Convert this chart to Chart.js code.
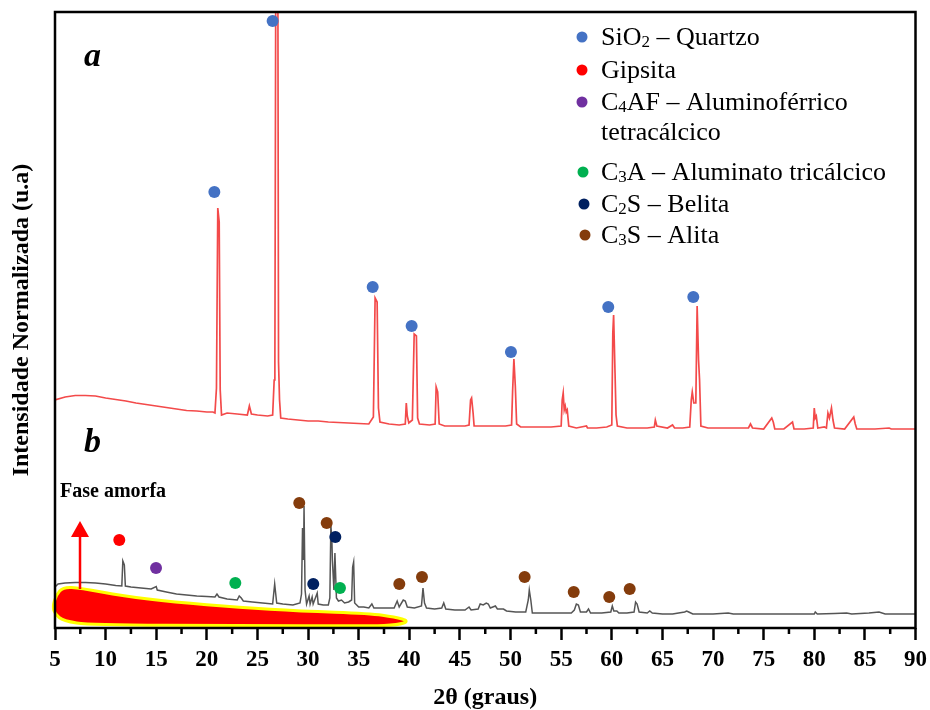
<!DOCTYPE html>
<html>
<head>
<meta charset="utf-8">
<script src="https://cdn.jsdelivr.net/npm/chart.js@4.4.1/dist/chart.umd.min.js"></script>
<style>
html, body { margin: 0; padding: 0; background: #fff; }
</style>
</head>
<body>
<canvas id="chart" width="930" height="710"></canvas>
<script>
// pattern a (red) - 2theta (graus) and intensity (u.a)
var thetaA = [5, 6, 7, 8, 9, 10, 11, 12,
    13, 14, 15, 16, 17, 18, 19, 20,
    20.6, 20.8, 20.95, 21.0, 21.08, 21.22, 21.32, 21.45,
    22, 23, 24, 24.2, 24.4, 25, 26, 26.5,
    26.65, 26.72, 26.8, 27.02, 27.08, 27.18, 27.3, 28,
    29, 30, 31, 32, 33, 34, 35, 36,
    36.45, 36.62, 36.82, 36.95, 37.1, 38, 39, 39.6,
    39.7, 39.8, 39.95, 40.3, 40.48, 40.7, 40.82, 41,
    42, 42.55, 42.65, 42.8, 42.95, 43.5, 44.5, 45.5,
    45.9, 46.05, 46.15, 46.3, 46.4, 47.5, 48.5, 49.5,
    50.1, 50.2, 50.33, 50.47, 50.6, 51, 52, 53,
    54, 55, 55.1, 55.2, 55.3, 55.4, 55.5, 55.6,
    55.75, 56.5, 57.5, 57.6, 58.5, 59.5, 60, 60.1,
    60.18, 60.32, 60.42, 60.55, 61.5, 62.5, 63.5, 64.2,
    64.3, 64.45, 65.5, 66, 66.2, 67, 67.7, 67.85,
    67.95, 68.1, 68.3, 68.43, 68.57, 68.67, 68.8, 69.5,
    70.5, 71.5, 72.5, 73.5, 73.7, 73.9, 75, 75.8,
    75.95, 76.1, 77, 77.85, 78, 79, 79.9, 80,
    80.1, 80.2, 80.35, 81, 81.2, 81.35, 81.5, 81.7,
    81.85, 82, 83, 83.9, 84.05, 84.2, 85, 86,
    87.4, 87.6, 89, 90];
var intA = [228, 231, 232.5, 232.5, 232, 230, 228.5, 227,
    225, 223.5, 222, 220.5, 219, 217.5, 217, 216,
    216, 215, 240, 240, 420, 406, 238, 213,
    215, 214, 213, 222, 214, 213, 212, 213,
    248, 266, 616, 616, 266, 228, 210, 209,
    208, 207, 207, 206, 205.5, 205, 204.5, 204,
    211, 330, 326, 220, 206, 204, 203, 204,
    225, 212, 205, 208, 294, 292, 210, 204,
    203, 204, 241, 236, 204, 202, 202, 202,
    203, 228, 230, 215, 202, 202, 202, 202,
    203, 236, 269, 242, 204, 201, 201, 201,
    201, 202, 228, 235, 218, 222, 216, 218,
    202, 200, 202, 200, 200, 201, 203, 295,
    313, 255, 213, 202, 200, 200, 200, 201,
    208, 202, 200, 203, 200, 200, 201, 228,
    236, 225, 225, 322, 268, 248, 202, 200,
    200, 200, 200, 200, 204, 200, 199, 210,
    206, 199, 199, 206, 199, 199, 200, 220,
    210, 212, 200, 201, 200, 215, 210, 220,
    208, 200, 199, 211, 204, 199, 199, 199,
    200, 199, 199, 199];

// pattern b (gray)
var thetaB = [5, 5.3, 6, 7, 8, 9, 10, 11,
    11.6, 11.7, 11.85, 11.95, 12.5, 13.5, 14.5, 15,
    15.1, 16, 17, 18, 19, 20, 20.8, 21,
    21.2, 22, 23, 23.2, 23.4, 23.6, 24.5, 25.5,
    26.5, 26.7, 26.9, 27.5, 28.5, 29.2, 29.35, 29.45,
    29.55, 29.6, 29.7, 29.85, 30.1, 30.2, 30.4, 30.5,
    30.9, 31, 31.5, 32, 32.15, 32.25, 32.35, 32.4,
    32.55, 32.65, 32.8, 33, 33.3, 33.6, 34, 34.3,
    34.4, 34.5, 34.6, 35, 35.5, 36, 36.3, 36.5,
    37.5, 38.5, 38.8, 39, 39.4, 39.6, 39.8, 40.5,
    41.2, 41.35, 41.5, 41.7, 42.5, 43.2, 43.4, 43.6,
    44.5, 45.5, 45.9, 46.1, 46.8, 47, 47.3, 47.6,
    47.8, 48, 48.5, 48.7, 49.3, 49.6, 50.5, 51.5,
    51.75, 51.85, 52, 52.15, 53, 54, 55, 56,
    56.3, 56.5, 56.7, 56.9, 57.5, 57.7, 57.9, 59,
    59.9, 60.05, 60.2, 60.5, 60.7, 61.5, 62.2, 62.35,
    62.5, 62.7, 63.5, 63.75, 64, 65, 66, 67.2,
    67.4, 67.6, 68, 70, 71.5, 72, 75, 80,
    80.1, 80.3, 82, 83.2, 83.7, 85.4, 86.4, 87,
    90];
var intB = [41, 44, 45, 45.5, 45.5, 45, 44, 42.5,
    42, 67, 63, 42, 41, 40, 39, 41.5,
    38, 36, 34, 33, 32, 31.5, 31, 34,
    31, 29, 28, 32, 30, 27, 26, 25,
    24, 44, 25, 24, 23, 25, 34, 100,
    68, 122, 38, 24, 32, 24, 31, 24,
    35, 24, 23, 23, 30, 103, 88, 68,
    38, 75, 30, 27, 28, 25, 26, 28,
    61, 66, 25, 21, 21, 20, 24, 20,
    20, 20, 27, 21, 28, 27, 21, 20,
    22, 40, 25, 20, 19, 20, 25, 19,
    18, 18, 21, 18, 19, 24, 23, 25,
    24, 20, 22, 19, 19, 17, 16, 16,
    28, 38, 28, 15, 15, 15, 15, 15,
    18, 24, 23, 16, 16, 19, 15, 15,
    16, 22, 17, 17, 15, 15, 16, 26,
    24, 16, 15, 17, 15, 14, 14, 16,
    17, 16, 14, 14, 15, 14, 14, 14,
    16, 14, 14.5, 15, 14, 15, 16, 14,
    14];

// phase markers (2theta, intensity)
var quartzTheta = [20.74, 26.5, 36.38, 40.23, 50.04, 59.65, 68.05];
var quartzInt = [436, 607, 341, 302, 276, 321, 331];
var gipsitaTheta = [11.35];
var gipsitaInt = [88];
var c4afTheta = [14.98];
var c4afInt = [60];
var c3aTheta = [22.81, 33.15];
var c3aInt = [45, 40];
var c2sTheta = [30.51, 32.69];
var c2sInt = [44, 91];
var c3sTheta = [29.13, 31.84, 39.01, 41.25, 51.39, 56.24, 59.75, 61.77];
var c3sInt = [125, 105, 44, 51, 51, 36, 31, 39];

var legendLabels = [['SiO_2 \u2013 Quartzo'], ['Gipsita'], ['C_4AF \u2013 Aluminof\u00e9rrico', 'tetrac\u00e1lcico'],
    ['C_3A \u2013 Aluminato tric\u00e1lcico'], ['C_2S \u2013 Belita'], ['C_3S \u2013 Alita']];
var phaseColors = ['#4472c4', '#ff0000', '#7030a0', '#00b050', '#002060', '#843c0c'];

// amorphous halo outline
var blobTheta = [4.77, 5.1, 5.82, 7.47, 11.75, 16.69, 23.27, 29.2, 36.11, 38.58, 40.0, 38.88, 36.11, 23.27, 8.46, 5.82, 5.0];
var blobInt = [21, 33, 41, 40, 32, 26, 20.5, 17, 14.5, 11, 7, 3, 2, 2.5, 3, 7, 14];
var arrowTheta = 7.47, arrowFrom = 39, arrowTo = 107;

var serif = '"Liberation Serif", "Times New Roman", serif';

function pts(xs, ys) {
    var out = [];
    for (var i = 0; i < xs.length; i++) out.push({x: xs[i], y: ys[i]});
    return out;
}

function dots(xs, ys, color) {
    return {data: pts(xs, ys), showLine: false, pointRadius: 6, pointHoverRadius: 6,
        pointBackgroundColor: color, pointBorderWidth: 0, order: 0};
}

function richText(ctx, str, x, y, size) {
    for (var i = 0; i < str.length; i++) {
        var ch = str[i];
        if (ch === '_') {
            i++;
            ctx.font = Math.round(size * 0.66) + 'px ' + serif;
            ctx.fillText(str[i], x, y + 2);
            x += ctx.measureText(str[i]).width;
        } else {
            ctx.font = size + 'px ' + serif;
            ctx.fillText(ch, x, y);
            x += ctx.measureText(ch).width;
        }
    }
}

var decorations = {
    id: 'decorations',
    afterDatasetsDraw: function(chart) {
        var ctx = chart.ctx, xs = chart.scales.x, ys = chart.scales.y;
        ctx.save();
        // amorphous region
        var p = [];
        for (var i = 0; i < blobTheta.length; i++) p.push({x: xs.getPixelForValue(blobTheta[i]), y: ys.getPixelForValue(blobInt[i])});
        var n = p.length;
        ctx.beginPath();
        ctx.moveTo((p[n - 1].x + p[0].x) / 2, (p[n - 1].y + p[0].y) / 2);
        for (var j = 0; j < n; j++) {
            var q = p[(j + 1) % n];
            ctx.quadraticCurveTo(p[j].x, p[j].y, (p[j].x + q.x) / 2, (p[j].y + q.y) / 2);
        }
        ctx.closePath();
        ctx.fillStyle = '#ff0000';
        ctx.fill();
        ctx.lineWidth = 3;
        ctx.strokeStyle = '#ffff00';
        ctx.stroke();

        // arrow
        var ax = xs.getPixelForValue(arrowTheta);
        var y0 = ys.getPixelForValue(arrowFrom), y1 = ys.getPixelForValue(arrowTo);
        ctx.strokeStyle = '#ff0000';
        ctx.lineWidth = 2.5;
        ctx.beginPath();
        ctx.moveTo(ax, y0);
        ctx.lineTo(ax, y1 + 15);
        ctx.stroke();
        ctx.fillStyle = '#ff0000';
        ctx.beginPath();
        ctx.moveTo(ax - 9, y1 + 16);
        ctx.lineTo(ax + 9, y1 + 16);
        ctx.lineTo(ax, y1);
        ctx.closePath();
        ctx.fill();

        // labels
        ctx.fillStyle = '#000';
        ctx.textBaseline = 'alphabetic';
        ctx.font = 'italic bold 34px ' + serif;
        ctx.fillText('a', 84, 66);
        ctx.fillText('b', 84, 452);
        ctx.font = 'bold 20px ' + serif;
        ctx.fillText('Fase amorfa', 60, 497);

        // legend
        var rowY = [45, 78, 110, 180, 212, 243];
        var dotX = [582, 582, 582, 583, 584, 585];
        for (var k = 0; k < legendLabels.length; k++) {
            ctx.fillStyle = phaseColors[k];
            ctx.beginPath();
            ctx.arc(dotX[k], rowY[k] - 8, 5.5, 0, Math.PI * 2);
            ctx.fill();
            ctx.fillStyle = '#000';
            for (var l = 0; l < legendLabels[k].length; l++) {
                richText(ctx, legendLabels[k][l], 601, rowY[k] + l * 30, 26);
            }
        }
        ctx.restore();
    },
    afterDraw: function(chart) {
        var ctx = chart.ctx, a = chart.chartArea, xs = chart.scales.x;
        ctx.save();
        ctx.strokeStyle = '#000';
        ctx.lineWidth = 2.5;
        ctx.strokeRect(a.left, a.top, a.right - a.left, a.bottom - a.top);
        // minor ticks
        ctx.beginPath();
        for (var v = 7.5; v < 90; v += 5) {
            var px = xs.getPixelForValue(v);
            ctx.moveTo(px, a.bottom);
            ctx.lineTo(px, a.bottom + 6);
        }
        ctx.stroke();
        ctx.restore();
    }
};

var ctx = document.getElementById('chart');
var myChart = new Chart(ctx, {
    type: 'scatter',
    data: {
        datasets: [
            dots(quartzTheta, quartzInt, phaseColors[0]),
            dots(gipsitaTheta, gipsitaInt, phaseColors[1]),
            dots(c4afTheta, c4afInt, phaseColors[2]),
            dots(c3aTheta, c3aInt, phaseColors[3]),
            dots(c2sTheta, c2sInt, phaseColors[4]),
            dots(c3sTheta, c3sInt, phaseColors[5]),
            {data: pts(thetaA, intA), showLine: true, pointRadius: 0, borderColor: '#f34a4a', borderWidth: 1.7, order: 1},
            {data: pts(thetaB, intB), showLine: true, pointRadius: 0, borderColor: '#555555', borderWidth: 1.5, order: 1}
        ]
    },
    options: {
        responsive: false,
        animation: false,
        devicePixelRatio: 1,
        layout: {padding: {top: 12, right: 14.5, bottom: 0, left: 0}},
        plugins: {legend: {display: false}, tooltip: {enabled: false}},
        scales: {
            x: {
                type: 'linear', min: 5, max: 90,
                border: {display: false},
                grid: {
                    drawOnChartArea: false, tickLength: 12, tickWidth: 2.5,
                    tickColor: function(c) { return c.tick && c.tick.value % 5 === 0 ? '#000' : 'rgba(0,0,0,0)'; }
                },
                ticks: {
                    stepSize: 2.5, autoSkip: false, maxRotation: 0, padding: 6, color: '#000',
                    font: {family: serif, size: 23, weight: 'bold'},
                    callback: function(v) { return v % 5 === 0 ? v : ''; }
                },
                title: {display: true, text: '2\u03b8 (graus)', color: '#000', padding: {top: 0, bottom: -2},
                    font: {family: serif, size: 24, weight: 'bold'}},
                afterFit: function(s) { s.height = 82; s.paddingLeft = 0; s.paddingRight = 0; }
            },
            y: {
                min: 0, max: 616,
                border: {display: false},
                grid: {display: false},
                ticks: {display: false},
                title: {display: true, text: 'Intensidade Normalizada (u.a)', color: '#000', padding: {top: 7, bottom: 0},
                    font: {family: serif, size: 24, weight: 'bold'}},
                afterFit: function(s) { s.width = 55; }
            }
        }
    },
    plugins: [decorations]
});
</script>
</body>
</html>
